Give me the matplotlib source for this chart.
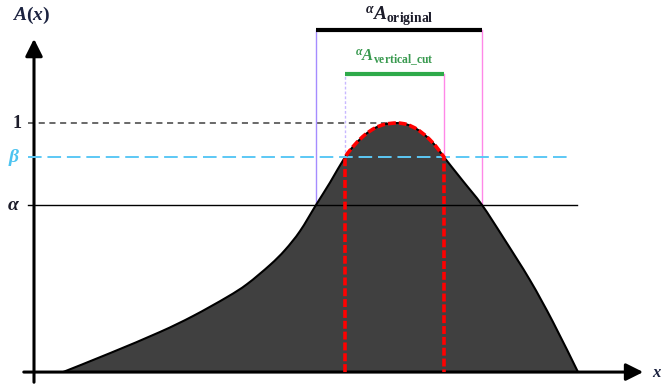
import matplotlib.pyplot as plt
from matplotlib.path import Path
from matplotlib.patches import PathPatch

# membership function A(x) (x in drawing units, y in [0, 1])
curve_x = [29, 76, 126, 159, 193, 213, 236, 251, 266, 282, 296, 311, 321, 331,
           341, 351, 363, 373, 383, 393, 402, 410, 429, 448, 469, 496, 519, 544]
curve_y = [0.0, 0.076, 0.161, 0.225, 0.301, 0.353, 0.430, 0.490, 0.566, 0.671,
           0.761, 0.863, 0.914, 0.953, 0.980, 0.995, 1.0, 0.994, 0.975, 0.944,
           0.906, 0.863, 0.767, 0.671, 0.542, 0.369, 0.201, 0.0]

alpha_level = 0.671
beta_level = 0.863
peak_level = 1.0

# alpha-cut and vertical-cut supports
alpha_cut = [282, 448]
beta_cut = [311, 410]

plt.rcParams['mathtext.fontset'] = 'custom'
plt.rcParams['mathtext.it'] = 'Liberation Serif:italic:bold'
plt.rcParams['mathtext.rm'] = 'Liberation Serif:bold'
plt.rcParams['mathtext.bf'] = 'Liberation Serif:bold'


def smooth_segments(px, py, i0, i1):
    """Bezier (CURVE4) vertices through points i0..i1, Catmull-Rom tangents."""
    verts, codes = [], []
    n = len(px)
    for i in range(i0, i1):
        a, b = max(i - 1, 0), min(i + 2, n - 1)
        c1 = (px[i] + (px[i + 1] - px[a]) / 6, py[i] + (py[i + 1] - py[a]) / 6)
        c2 = (px[i + 1] - (px[b] - px[i]) / 6, py[i + 1] - (py[b] - py[i]) / 6)
        verts += [c1, c2, (px[i + 1], py[i + 1])]
        codes += [Path.CURVE4] * 3
    return verts, codes


fig = plt.figure(figsize=(6.63, 3.88), dpi=100)
ax = fig.add_axes([0, 0, 1, 1])
ax.set_xlim(-34, 629)
ax.set_ylim(-0.064, 1.494)
ax.axis('off')

n = len(curve_x)

# filled membership curve
v, c = smooth_segments(curve_x, curve_y, 0, n - 1)
outline = Path([(curve_x[0], curve_y[0])] + v, [Path.MOVETO] + c)
ax.add_patch(PathPatch(Path([(curve_x[0], curve_y[0])] + v + [(curve_x[0], 0)],
                            [Path.MOVETO] + c + [Path.CLOSEPOLY]),
                       facecolor='#404040', edgecolor='none', zorder=2))
ax.add_patch(PathPatch(outline, facecolor='none', edgecolor='black', lw=1.5, zorder=3))

# level lines
ax.plot([-6, 363], [peak_level, peak_level], color='#404040', lw=1.1,
        dashes=(4, 3), zorder=1)
ax.plot([-6, 536], [beta_level, beta_level], color='#5cc8f5', lw=1.4,
        dashes=(7, 3), zorder=4)
ax.plot([-6, 543], [alpha_level, alpha_level], color='black', lw=1.0, zorder=4)

# alpha-cut interval
top_bar = 1.373
ax.plot([alpha_cut[0]] * 2, [alpha_level, top_bar], color='#a58cff', lw=1.0, zorder=1)
ax.plot([alpha_cut[1]] * 2, [alpha_level, top_bar], color='#ff88e8', lw=1.0, zorder=1)
ax.plot(alpha_cut, [top_bar, top_bar], color='black', lw=3, solid_capstyle='butt', zorder=5)
ax.text(sum(alpha_cut) / 2, 1.43, r'$^{\alpha}A_{\mathrm{original}}$', ha='center',
        va='center', fontsize=14, color='#1c1c2a')

# vertical-cut interval
green_bar = 1.197
ax.plot([beta_cut[0]] * 2, [beta_level, green_bar], color='#c8b8ff', lw=1.0,
        dashes=(2, 1.5), zorder=1)
ax.plot([beta_cut[1]] * 2, [beta_level, green_bar], color='#ff88e8', lw=1.0, zorder=1)
ax.plot(beta_cut, [green_bar, green_bar], color='#2eaa4a', lw=3, solid_capstyle='butt', zorder=5)
ax.text(sum(beta_cut) / 2, 1.262, r'$^{\alpha}A_{\mathrm{vertical\_cut}}$', ha='center',
        va='center', fontsize=12, color='#3a9a50')

# red dashed outline of the vertical cut
j0, j1 = curve_x.index(beta_cut[0]), curve_x.index(beta_cut[1])
v, c = smooth_segments(curve_x, curve_y, j0, j1)
red = Path([(beta_cut[0], 0), (beta_cut[0], beta_level)] + v + [(beta_cut[1], 0)],
           [Path.MOVETO, Path.LINETO] + c + [Path.LINETO])
ax.add_patch(PathPatch(red, facecolor='none', edgecolor='red', lw=2.6,
                       linestyle=(0, (2.2, 0.8)), zorder=6))

# axes with arrows
ax.annotate('', xy=(0, 1.349), xytext=(0, -0.052),
            arrowprops=dict(arrowstyle='-|>', lw=2.2, color='black', mutation_scale=26))
ax.annotate('', xy=(612, 0), xytext=(-13, 0),
            arrowprops=dict(arrowstyle='-|>', lw=2.2, color='black', mutation_scale=26))
ax.text(-3, 1.432, r'$A(x)$', ha='center', va='center', fontsize=14, color='#1c2340')
ax.text(623, 0.0, r'$x$', ha='center', va='center', fontsize=12, color='#1c2340')

# y tick labels
ax.text(-17, peak_level, r'$1$', ha='center', va='center', fontsize=13, color='#1c1c2a')
ax.text(-20, beta_level, r'$\beta$', ha='center', va='center', fontsize=14, color='#4cc3f0')
ax.text(-20, alpha_level, r'$\alpha$', ha='center', va='center', fontsize=14, color='#1c1c2a')

fig.savefig('out.png', dpi=100)
